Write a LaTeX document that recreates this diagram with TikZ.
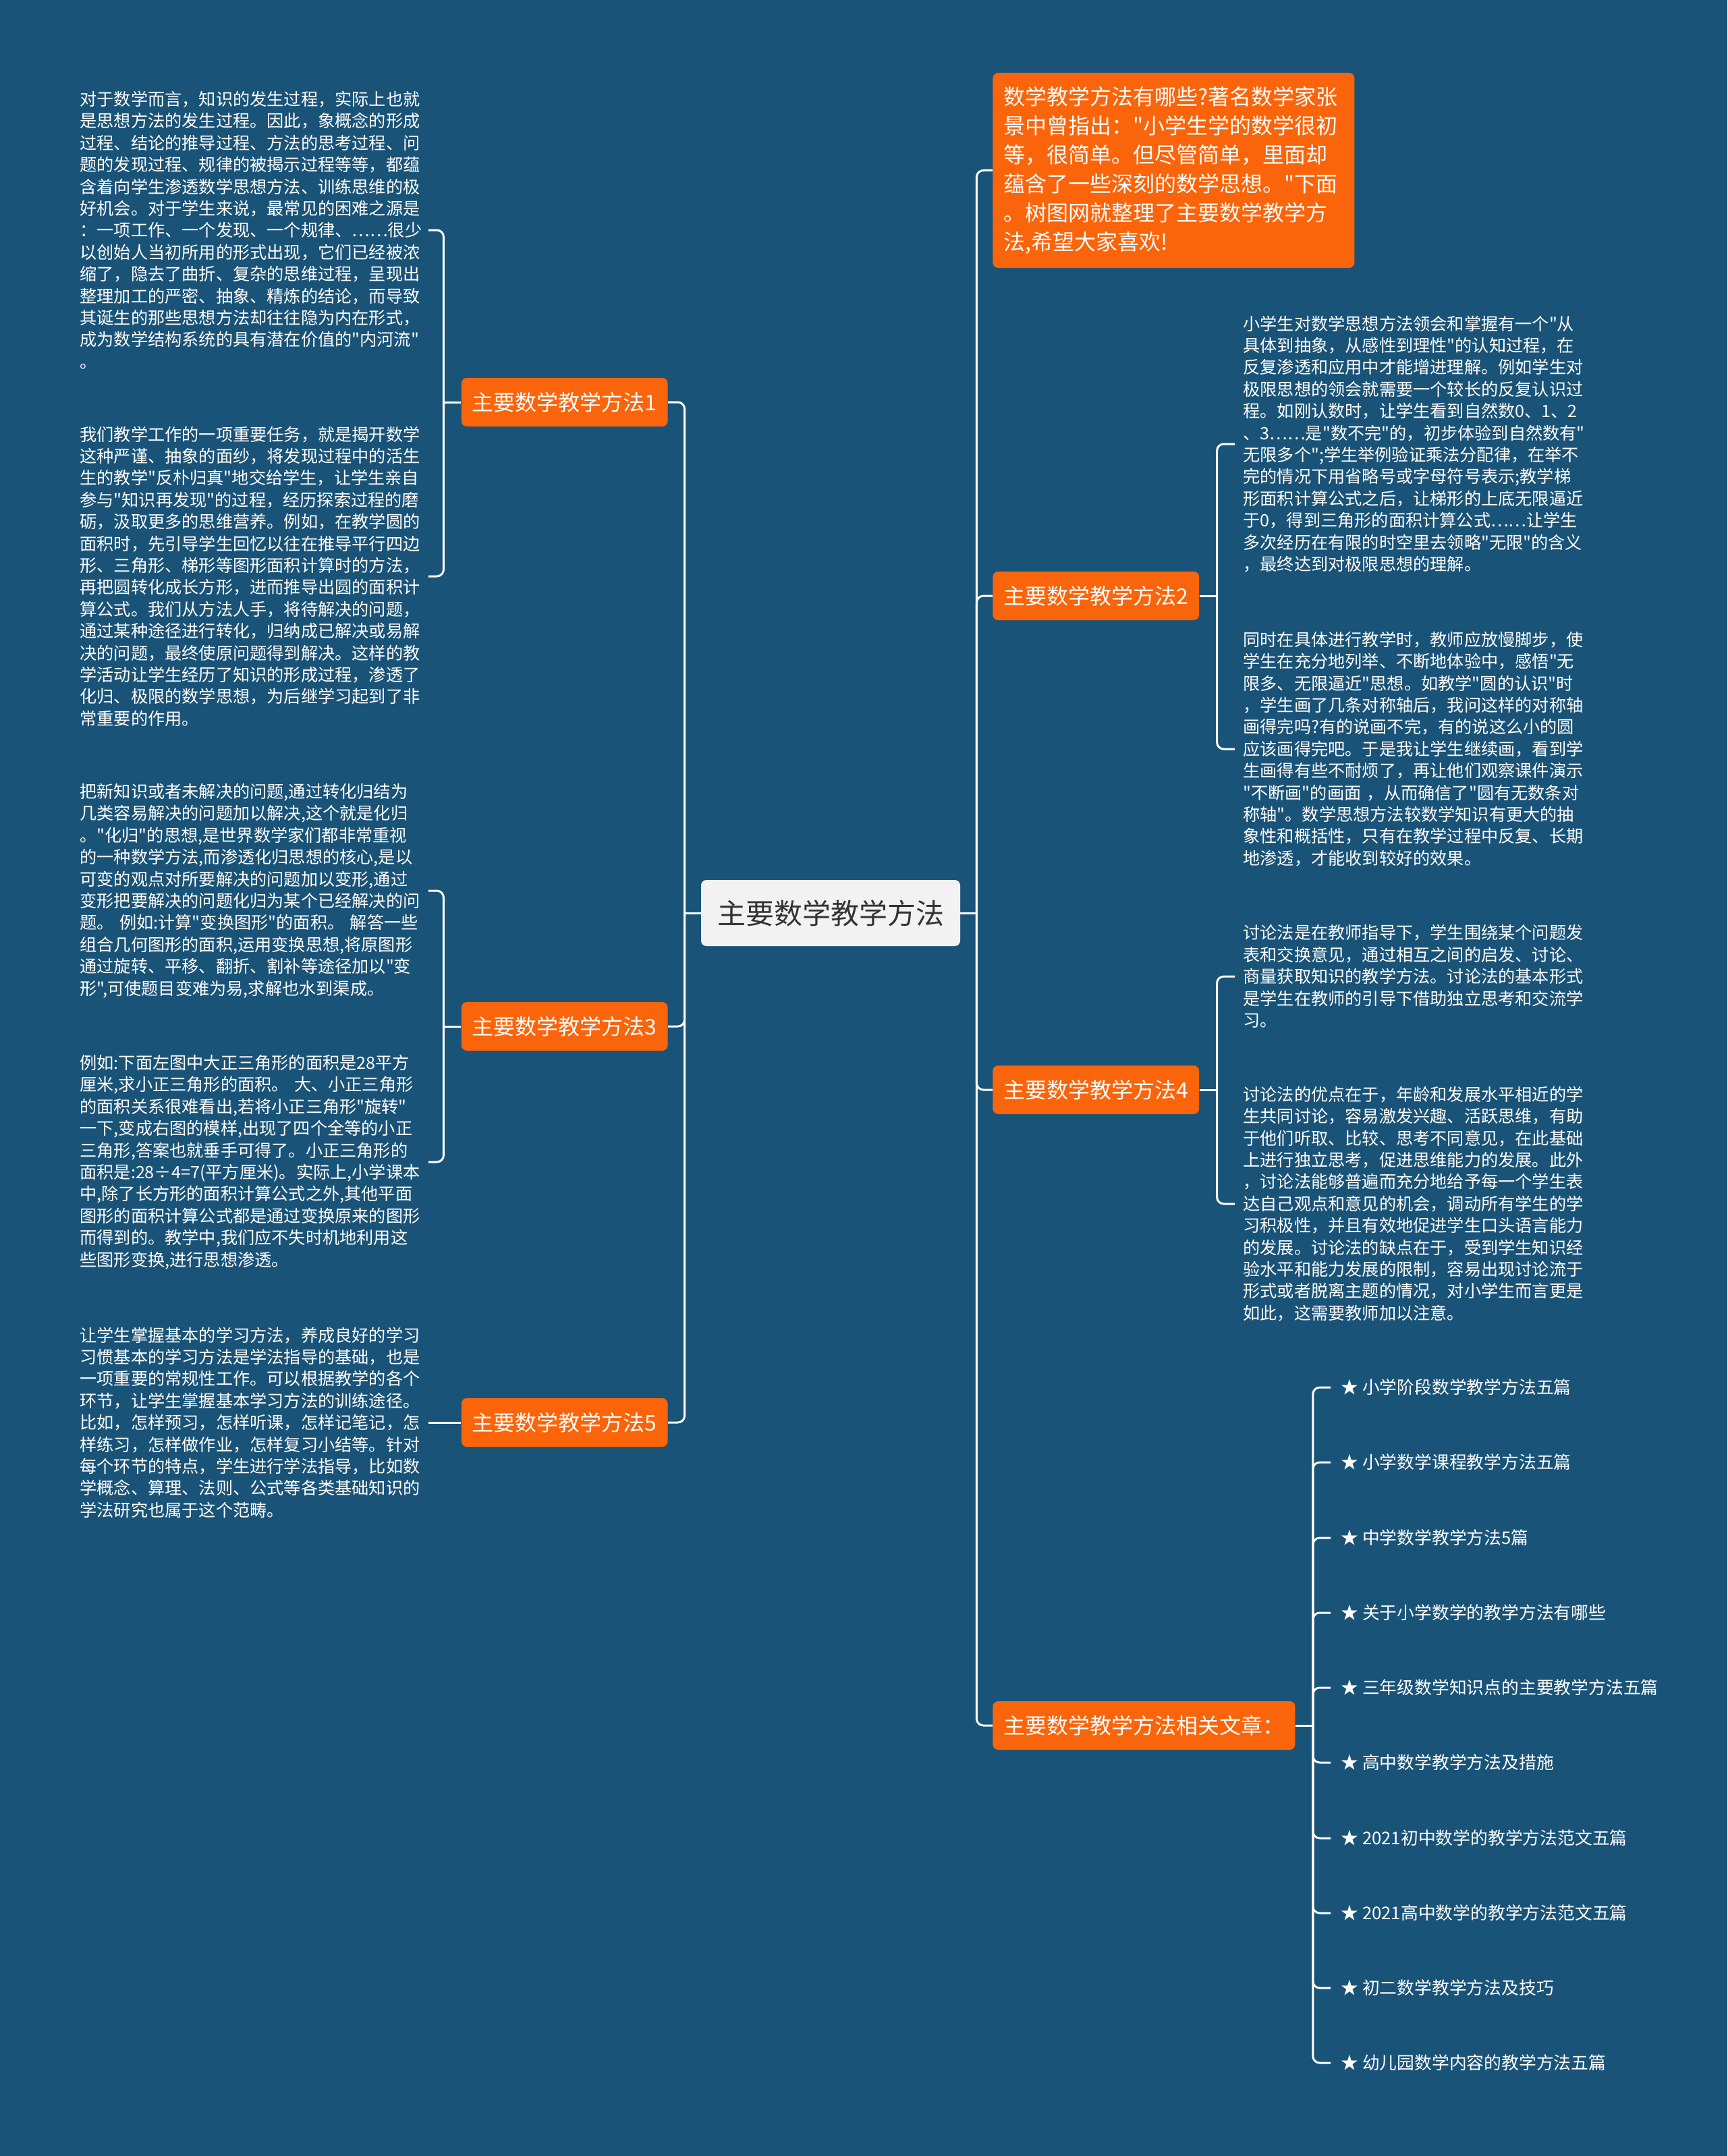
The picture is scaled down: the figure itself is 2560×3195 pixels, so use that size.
\documentclass[tikz,border=0pt]{standalone}
\usepackage{fontspec}
\setmainfont{Noto Sans CJK SC}
\newfontfamily\cjk{Noto Sans CJK SC}
\definecolor{bg}{RGB}{26,83,120}
\definecolor{org}{RGB}{250,100,10}
\definecolor{cfill}{RGB}{242,242,242}
\definecolor{ctext}{RGB}{51,51,51}
\begin{document}
\begin{tikzpicture}[x=0.5pt,y=-0.5pt,
  conn/.style={draw=white, line width=1.5pt, rounded corners=5pt},
  method/.style={fill=org, text=white, rounded corners=4pt, minimum height=36pt, inner xsep=8pt, inner ysep=0pt, font=\cjk\fontsize{16pt}{20pt}\selectfont},
  body/.style={text=white, align=left, text width=258pt, inner sep=0pt, font=\cjk\fontsize{12.6pt}{16.2pt}\selectfont},
  rbody/.style={body, inner xsep=6pt},
  item/.style={text=white, inner xsep=7.5pt, inner ysep=0pt, font=\cjk\fontsize{12.9pt}{16pt}\selectfont}]
\fill[bg] (0,0) rectangle (2560,3195);
\useasboundingbox (0,0) rectangle (2560,3195);

% centre
\node[fill=cfill, text=ctext, rounded corners=4pt, minimum width=192pt, minimum height=49pt, font=\cjk\fontsize{21pt}{25pt}\selectfont] (c) at (1231,1353) {主要数学教学方法};

% left branches
\node[method, anchor=east] (m1) at (990,596) {主要数学教学方法1};
\node[method, anchor=east] (m3) at (990,1521) {主要数学教学方法3};
\node[method, anchor=east] (m5) at (990,2108) {主要数学教学方法5};

% right branches
\node[fill=org, text=white, rounded corners=4pt, anchor=west, align=left, text width=252pt, inner xsep=8pt, minimum height=144.5pt, font=\cjk\fontsize{16pt}{21.5pt}\selectfont] (top) at (1471,252.5) {数学教学方法有哪些?著名数学家张\\
景中曾指出："小学生学的数学很初\\
等，很简单。但尽管简单，里面却\\
蕴含了一些深刻的数学思想。"下面\\
。树图网就整理了主要数学教学方\\
法,希望大家喜欢!};
\node[method, anchor=west] (m2) at (1471,883) {主要数学教学方法2};
\node[method, anchor=west] (m4) at (1471,1615) {主要数学教学方法4};
\node[method, anchor=west] (rel) at (1471,2557) {主要数学教学方法相关文章：};

% left texts
\node[body, anchor=west] (t1) at (118,341) {对于数学而言，知识的发生过程，实际上也就\\
是思想方法的发生过程。因此，象概念的形成\\
过程、结论的推导过程、方法的思考过程、问\\
题的发现过程、规律的被揭示过程等等，都蕴\\
含着向学生渗透数学思想方法、训练思维的极\\
好机会。对于学生来说，最常见的困难之源是\\
：一项工作、一个发现、一个规律、……很少\\
以创始人当初所用的形式出现，它们已经被浓\\
缩了，隐去了曲折、复杂的思维过程，呈现出\\
整理加工的严密、抽象、精炼的结论，而导致\\
其诞生的那些思想方法却往往隐为内在形式，\\
成为数学结构系统的具有潜在价值的"内河流"\\
。};
\node[body, anchor=west] (t2) at (118,854) {我们教学工作的一项重要任务，就是揭开数学\\
这种严谨、抽象的面纱，将发现过程中的活生\\
生的教学"反朴归真"地交给学生，让学生亲自\\
参与"知识再发现"的过程，经历探索过程的磨\\
砺，汲取更多的思维营养。例如，在教学圆的\\
面积时，先引导学生回忆以往在推导平行四边\\
形、三角形、梯形等图形面积计算时的方法，\\
再把圆转化成长方形，进而推导出圆的面积计\\
算公式。我们从方法人手，将待解决的问题，\\
通过某种途径进行转化，归纳成已解决或易解\\
决的问题，最终使原问题得到解决。这样的教\\
学活动让学生经历了知识的形成过程，渗透了\\
化归、极限的数学思想，为后继学习起到了非\\
常重要的作用。};
\node[body, anchor=west] (t3) at (118,1320) {把新知识或者未解决的问题,通过转化归结为\\
几类容易解决的问题加以解决,这个就是化归\\
。"化归"的思想,是世界数学家们都非常重视\\
的一种数学方法,而渗透化归思想的核心,是以\\
可变的观点对所要解决的问题加以变形,通过\\
变形把要解决的问题化归为某个已经解决的问\\
题。~例如:计算"变换图形"的面积。~解答一些\\
组合几何图形的面积,运用变换思想,将原图形\\
通过旋转、平移、翻折、割补等途径加以"变\\
形",可使题目变难为易,求解也水到渠成。};
\node[body, anchor=west] (t4) at (118,1722) {例如:下面左图中大正三角形的面积是28平方\\
厘米,求小正三角形的面积。~大、小正三角形\\
的面积关系很难看出,若将小正三角形"旋转"\\
一下,变成右图的模样,出现了四个全等的小正\\
三角形,答案也就垂手可得了。小正三角形的\\
面积是:28÷4=7(平方厘米)。实际上,小学课本\\
中,除了长方形的面积计算公式之外,其他平面\\
图形的面积计算公式都是通过变换原来的图形\\
而得到的。教学中,我们应不失时机地利用这\\
些图形变换,进行思想渗透。};
\node[body, anchor=west] (t5) at (118,2108) {让学生掌握基本的学习方法，养成良好的学习\\
习惯基本的学习方法是学法指导的基础，也是\\
一项重要的常规性工作。可以根据教学的各个\\
环节，让学生掌握基本学习方法的训练途径。\\
比如，怎样预习，怎样听课，怎样记笔记，怎\\
样练习，怎样做作业，怎样复习小结等。针对\\
每个环节的特点，学生进行学法指导，比如数\\
学概念、算理、法则、公式等各类基础知识的\\
学法研究也属于这个范畴。};

% right texts
\node[rbody, anchor=west] (r2a) at (1830,658) {小学生对数学思想方法领会和掌握有一个"从\\
具体到抽象，从感性到理性"的认知过程，在\\
反复渗透和应用中才能增进理解。例如学生对\\
极限思想的领会就需要一个较长的反复认识过\\
程。如刚认数时，让学生看到自然数0、1、2\\
、3……是"数不完"的，初步体验到自然数有"\\
无限多个";学生举例验证乘法分配律，在举不\\
完的情况下用省略号或字母符号表示;教学梯\\
形面积计算公式之后，让梯形的上底无限逼近\\
于0，得到三角形的面积计算公式……让学生\\
多次经历在有限的时空里去领略"无限"的含义\\
，最终达到对极限思想的理解。};
\node[rbody, anchor=west] (r2b) at (1830,1110) {同时在具体进行教学时，教师应放慢脚步，使\\
学生在充分地列举、不断地体验中，感悟"无\\
限多、无限逼近"思想。如教学"圆的认识"时\\
，学生画了几条对称轴后，我问这样的对称轴\\
画得完吗?有的说画不完，有的说这么小的圆\\
应该画得完吧。于是我让学生继续画，看到学\\
生画得有些不耐烦了，再让他们观察课件演示\\
"不断画"的画面~，从而确信了"圆有无数条对\\
称轴"。数学思想方法较数学知识有更大的抽\\
象性和概括性，只有在教学过程中反复、长期\\
地渗透，才能收到较好的效果。};
\node[rbody, anchor=west] (r4a) at (1830,1447) {讨论法是在教师指导下，学生围绕某个问题发\\
表和交换意见，通过相互之间的启发、讨论、\\
商量获取知识的教学方法。讨论法的基本形式\\
是学生在教师的引导下借助独立思考和交流学\\
习。};
\node[rbody, anchor=west] (r4b) at (1830,1784) {讨论法的优点在于，年龄和发展水平相近的学\\
生共同讨论，容易激发兴趣、活跃思维，有助\\
于他们听取、比较、思考不同意见，在此基础\\
上进行独立思考，促进思维能力的发展。此外\\
，讨论法能够普遍而充分地给予每一个学生表\\
达自己观点和意见的机会，调动所有学生的学\\
习积极性，并且有效地促进学生口头语言能力\\
的发展。讨论法的缺点在于，受到学生知识经\\
验水平和能力发展的限制，容易出现讨论流于\\
形式或者脱离主题的情况，对小学生而言更是\\
如此，这需要教师加以注意。};

% related items
\node[item, anchor=west] (i1) at (1972,2056) {★ 小学阶段数学教学方法五篇};
\node[item, anchor=west] (i2) at (1972,2167) {★ 小学数学课程教学方法五篇};
\node[item, anchor=west] (i3) at (1972,2279) {★ 中学数学教学方法5篇};
\node[item, anchor=west] (i4) at (1972,2390) {★ 关于小学数学的教学方法有哪些};
\node[item, anchor=west] (i5) at (1972,2501) {★ 三年级数学知识点的主要教学方法五篇};
\node[item, anchor=west] (i6) at (1972,2612) {★ 高中数学教学方法及措施};
\node[item, anchor=west] (i7) at (1972,2724) {★ 2021初中数学的教学方法范文五篇};
\node[item, anchor=west] (i8) at (1972,2835) {★ 2021高中数学的教学方法范文五篇};
\node[item, anchor=west] (i9) at (1972,2946) {★ 初二数学教学方法及技巧};
\node[item, anchor=west] (i10) at (1972,3057) {★ 幼儿园数学内容的教学方法五篇};

% spines
\draw[conn] (c.west) -- ++(-24,0) coordinate (lj);
\draw[conn] (lj) |- (m1.east);
\draw[conn] (lj) |- (m3.east);
\draw[conn] (lj) |- (m5.east);
\draw[conn] (c.east) -- ++(24,0) coordinate (rj);
\draw[conn] (rj) |- (top.west);
\draw[conn] (rj) |- (m2.west);
\draw[conn] (rj) |- (m4.west);
\draw[conn] (rj) |- (rel.west);

% brackets
\draw[conn] (m1.west) -- ++(-26,0) coordinate (b1);
\draw[conn] (b1) |- (t1.east);
\draw[conn] (b1) |- (t2.east);
\draw[conn] (m3.west) -- ++(-26,0) coordinate (b3);
\draw[conn] (b3) |- (t3.east);
\draw[conn] (b3) |- (t4.east);
\draw[conn] (m5.west) -- (t5.east);
\draw[conn] (m2.east) -- ++(26,0) coordinate (b2);
\draw[conn] (b2) |- (r2a.west);
\draw[conn] (b2) |- (r2b.west);
\draw[conn] (m4.east) -- ++(26,0) coordinate (b4);
\draw[conn] (b4) |- (r4a.west);
\draw[conn] (b4) |- (r4b.west);
\draw[conn] (rel.east) -- ++(26,0) coordinate (br);
\foreach \i in {1,...,10} { \draw[conn] (br) |- (i\i.west); }
\end{tikzpicture}
\end{document}
